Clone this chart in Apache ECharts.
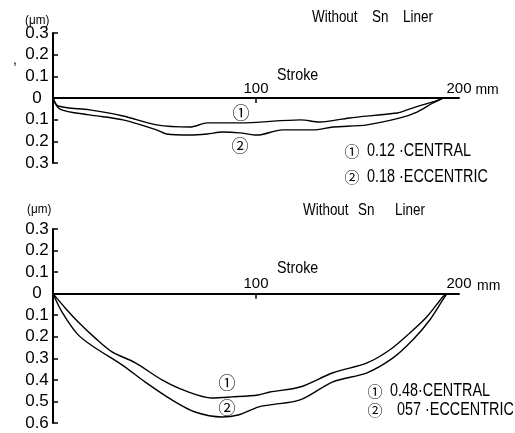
<!DOCTYPE html>
<html>
<head>
<meta charset="utf-8">
<script src="https://cdn.jsdelivr.net/npm/echarts@6/dist/echarts.min.js"></script>
<style>
  html, body { margin: 0; padding: 0; background: #fff; }
  #chart { width: 515px; height: 433px; }
</style>
</head>
<body>
<div id="chart"></div>
<script>
// stroke position (mm) and wear depth (um, negative = below the zero line)
var topX1 = [0, 2.5, 18, 34.5, 51, 67.5, 76, 92, 122, 131.5, 146, 169.5, 174.5, 182, 190.5, 192];
var topCentral = [0, -0.037, -0.055, -0.083, -0.124, -0.134, -0.115, -0.115, -0.101, -0.111, -0.092, -0.069, -0.055, -0.032, -0.009, 0];
var topX2 = [0, 3.4, 18, 34.5, 51, 56, 67.5, 76, 83.7, 92, 100.5, 113, 128, 138, 154.7, 171, 179.3, 187.2, 192];
var topEccentric = [0, -0.051, -0.078, -0.101, -0.147, -0.166, -0.171, -0.166, -0.157, -0.161, -0.171, -0.147, -0.147, -0.134, -0.124, -0.092, -0.065, -0.023, 0];

var botX1 = [0, 5.9, 12.3, 20.7, 29.1, 40.4, 53.7, 65, 78.3, 88.2, 101, 106.9, 121.7, 137.9, 154.7, 166, 175.9, 184.2, 192.1, 194.1];
var botCentral = [0, -0.065, -0.13, -0.205, -0.27, -0.32, -0.40, -0.45, -0.484, -0.479, -0.47, -0.456, -0.433, -0.367, -0.321, -0.26, -0.181, -0.107, -0.014, 0];
var botX2 = [0, 4.4, 12.3, 20.7, 34, 45.3, 58.6, 70, 83.3, 91.1, 101, 106.9, 121.7, 137.9, 154.7, 167.5, 177.3, 185.7, 192.1, 194.1];
var botEccentric = [0, -0.084, -0.19, -0.251, -0.33, -0.409, -0.493, -0.549, -0.572, -0.563, -0.526, -0.516, -0.493, -0.409, -0.367, -0.298, -0.214, -0.121, -0.028, 0];

var xTickValues = [100];
var xLabelValues = [100, 200];

var FONT = "'Liberation Sans', Arial, sans-serif";
var CIRCLE_FONT = "'Noto Sans CJK JP', 'DejaVu Sans', sans-serif";

// grid boxes: the stroke axis sits on the zero line of each panel
var topGrid = { left: 53, top: 33, width: 406, height: 130 };
var botGrid = { left: 53, top: 229, width: 406, height: 194 };
var topY = [-0.3, 0.3];
var botY = [-0.6, 0.3];

function pairs(xs, ys) {
  return xs.map(function (x, i) { return [x, ys[i]]; });
}

function zeroOffset(grid, yr) {
  return -grid.height * yr[1] / (yr[1] - yr[0]);
}

function xAxisCfg(gridIndex, grid, yr, nameGap) {
  return {
    type: 'value', gridIndex: gridIndex, min: 0, max: 200, position: 'top',
    offset: zeroOffset(grid, yr),
    name: 'mm', nameLocation: 'end', nameGap: nameGap,
    nameTextStyle: { color: '#000', fontFamily: FONT, fontSize: 14, align: 'left', verticalAlign: 'bottom', padding: [0, 0, 1, 0] },
    axisLine: { onZero: false, lineStyle: { color: '#000', width: 2 } },
    axisTick: { show: true, inside: true, length: 5, customValues: xTickValues, lineStyle: { color: '#000', width: 1.5 } },
    axisLabel: { inside: false, margin: 2, customValues: xLabelValues, color: '#000', fontFamily: FONT, fontSize: 15 },
    splitLine: { show: false }
  };
}

function yAxisCfg(gridIndex, yr) {
  return {
    type: 'value', gridIndex: gridIndex, min: yr[0], max: yr[1], interval: 0.1,
    axisLine: { show: true, lineStyle: { color: '#000', width: 2 } },
    axisTick: { show: true, inside: true, length: 5, lineStyle: { color: '#000', width: 1.5 } },
    axisLabel: {
      margin: 16, align: 'center', color: '#000', fontFamily: FONT, fontSize: 17,
      formatter: function (v) {
        var a = Math.abs(v);
        return a < 1e-9 ? '0' : a.toFixed(1);
      }
    },
    splitLine: { show: false }
  };
}

function lineSeries(name, xi, data) {
  return {
    name: name, type: 'line', xAxisIndex: xi, yAxisIndex: xi,
    data: data, symbol: 'none', smooth: 0.3,
    lineStyle: { color: '#000', width: 1.4 }
  };
}

// narrow-looking lettering: scale the text horizontally
function label(x, y, text, size, sx) {
  return {
    type: 'text', x: x, y: y, scaleX: sx || 0.84,
    style: { text: text, fill: '#000', fontFamily: FONT, fontSize: size, align: 'left', verticalAlign: 'middle' }
  };
}

function circled(x, y, text, size) {
  return {
    type: 'text', x: x, y: y,
    style: { text: text, fill: '#000', fontFamily: CIRCLE_FONT, fontSize: size, align: 'center', verticalAlign: 'middle' }
  };
}

var myChart = echarts.init(document.getElementById('chart'));
var option = {
  backgroundColor: '#fff',
  animation: false,
  grid: [topGrid, botGrid],
  xAxis: [xAxisCfg(0, topGrid, topY, 12), xAxisCfg(1, botGrid, botY, 18)],
  yAxis: [yAxisCfg(0, topY), yAxisCfg(1, botY)],
  series: [
    lineSeries('CENTRAL', 0, pairs(topX1, topCentral)),
    lineSeries('ECCENTRIC', 0, pairs(topX2, topEccentric)),
    lineSeries('CENTRAL', 1, pairs(botX1, botCentral)),
    lineSeries('ECCENTRIC', 1, pairs(botX2, botEccentric))
  ],
  graphic: [
    // top panel
    label(25, 20, '(μm)', 13, 0.9),
    label(13, 60, ',', 14, 1),
    label(312, 18, 'Without', 16),
    label(372, 18, 'Sn', 16),
    label(403, 18, 'Liner', 16),
    label(277, 75, 'Stroke', 17),
    circled(241, 113, '①', 17),
    circled(240, 146, '②', 17),
    circled(352, 151, '①', 15),
    label(367, 151, '0.12 ·CENTRAL', 18, 0.8),
    circled(352, 177, '②', 15),
    label(367, 177, '0.18 ·ECCENTRIC', 18, 0.8),
    // bottom panel
    label(27, 209, '(μm)', 13, 0.9),
    label(303, 211, 'Without', 16),
    label(358, 211, 'Sn', 16),
    label(395, 211, 'Liner', 16),
    label(277, 268, 'Stroke', 17),
    circled(227, 383, '①', 17),
    circled(227, 408, '②', 17),
    circled(375, 391, '①', 15),
    label(390, 391, '0.48·CENTRAL', 18, 0.8),
    circled(375, 410, '②', 15),
    label(397, 410, '057 ·ECCENTRIC', 18, 0.8)
  ]
};
option && myChart.setOption(option);
</script>
</body>
</html>
